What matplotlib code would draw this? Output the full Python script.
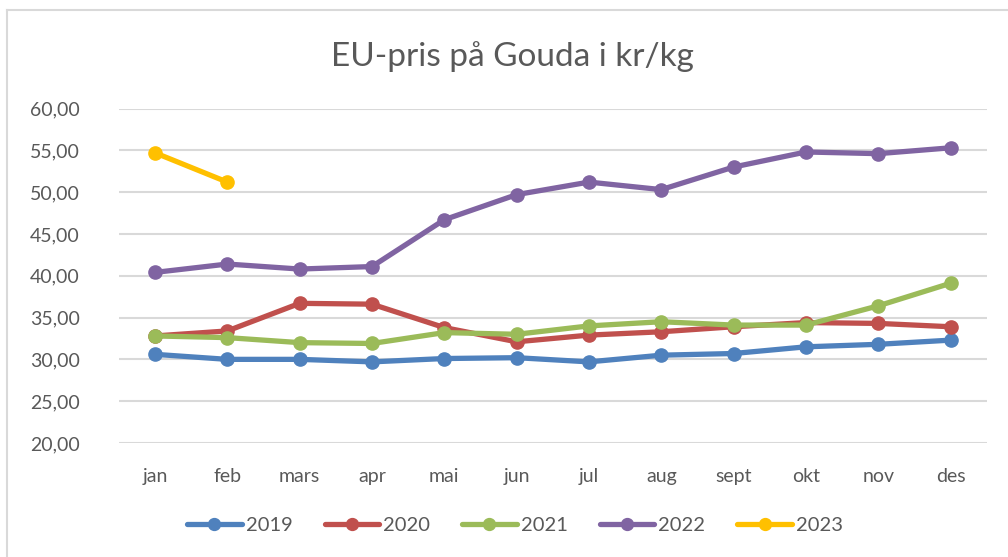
import matplotlib
matplotlib.use("Agg")
import matplotlib.pyplot as plt
from matplotlib.lines import Line2D

months = ["jan", "feb", "mars", "apr", "mai", "jun", "jul", "aug", "sept", "okt", "nov", "des"]
y2019 = [30.6, 30.0, 30.0, 29.7, 30.1, 30.2, 29.7, 30.5, 30.7, 31.5, 31.8, 32.3]
y2020 = [32.8, 33.4, 36.7, 36.6, 33.8, 32.1, 32.9, 33.3, 33.9, 34.4, 34.3, 33.9]
y2021 = [32.8, 32.6, 32.0, 31.9, 33.2, 33.0, 34.0, 34.5, 34.1, 34.1, 36.4, 39.1]
y2022 = [40.4, 41.4, 40.8, 41.1, 46.7, 49.7, 51.2, 50.3, 53.0, 54.8, 54.6, 55.3]
y2023 = [54.7, 51.2]
series_names = ["2019", "2020", "2021", "2022", "2023"]
colors = ["#4F81BD", "#C0504D", "#9BBB59", "#8064A2", "#FFC000"]
yticks = [20, 25, 30, 35, 40, 45, 50, 55, 60]

plt.rcParams['font.family'] = ['Lato', 'DejaVu Sans']
txt = "#595959"

fig = plt.figure(figsize=(10.08, 5.57), dpi=100)
ax = fig.add_axes([0.1179, 0.2047, 0.861, 0.6005])

x = list(range(len(months)))
data = [y2019, y2020, y2021, y2022, y2023]
for vals, name, c in zip(data, series_names, colors):
    ax.plot(x[:len(vals)], vals, color=c, lw=3.8, marker='o', ms=9.5,
            solid_capstyle='round', label=name, zorder=3)

ax.set_xlim(-0.5, 11.5)
ax.set_ylim(20, 60)
ax.set_yticks(yticks)
ax.set_yticklabels([f"{v:.2f}".replace(".", ",") for v in yticks])
ax.set_xticks(x)
ax.set_xticklabels(months)
ax.tick_params(axis='y', length=0, pad=28, labelsize=14, labelcolor=txt)
ax.tick_params(axis='x', length=0, pad=18, labelsize=14, labelcolor=txt)
ax.grid(axis='y', color='#D9D9D9', lw=1.5)
ax.set_axisbelow(True)
for s in ax.spines.values():
    s.set_visible(False)

fig.text(512/1008, 1 - 57/557, "EU-pris på Gouda i kr/kg", ha='center', va='center',
         fontsize=24, color=txt)

fig.legend(loc='center', bbox_to_anchor=(515/1008, 1 - 525/557), ncol=5, frameon=False,
           fontsize=14.5, labelcolor=txt, handlelength=2.7, handletextpad=0.2,
           columnspacing=1.6, markerscale=0.9)

# chart border (left and top visible)
fig.add_artist(Line2D([7/1008, 7/1008], [0, 1 - 10/557], transform=fig.transFigure,
                      color='#D9D9D9', lw=1.5))
fig.add_artist(Line2D([7/1008, 1], [1 - 10/557, 1 - 10/557], transform=fig.transFigure,
                      color='#D9D9D9', lw=1.5))

fig.savefig("out.png", dpi=100)
